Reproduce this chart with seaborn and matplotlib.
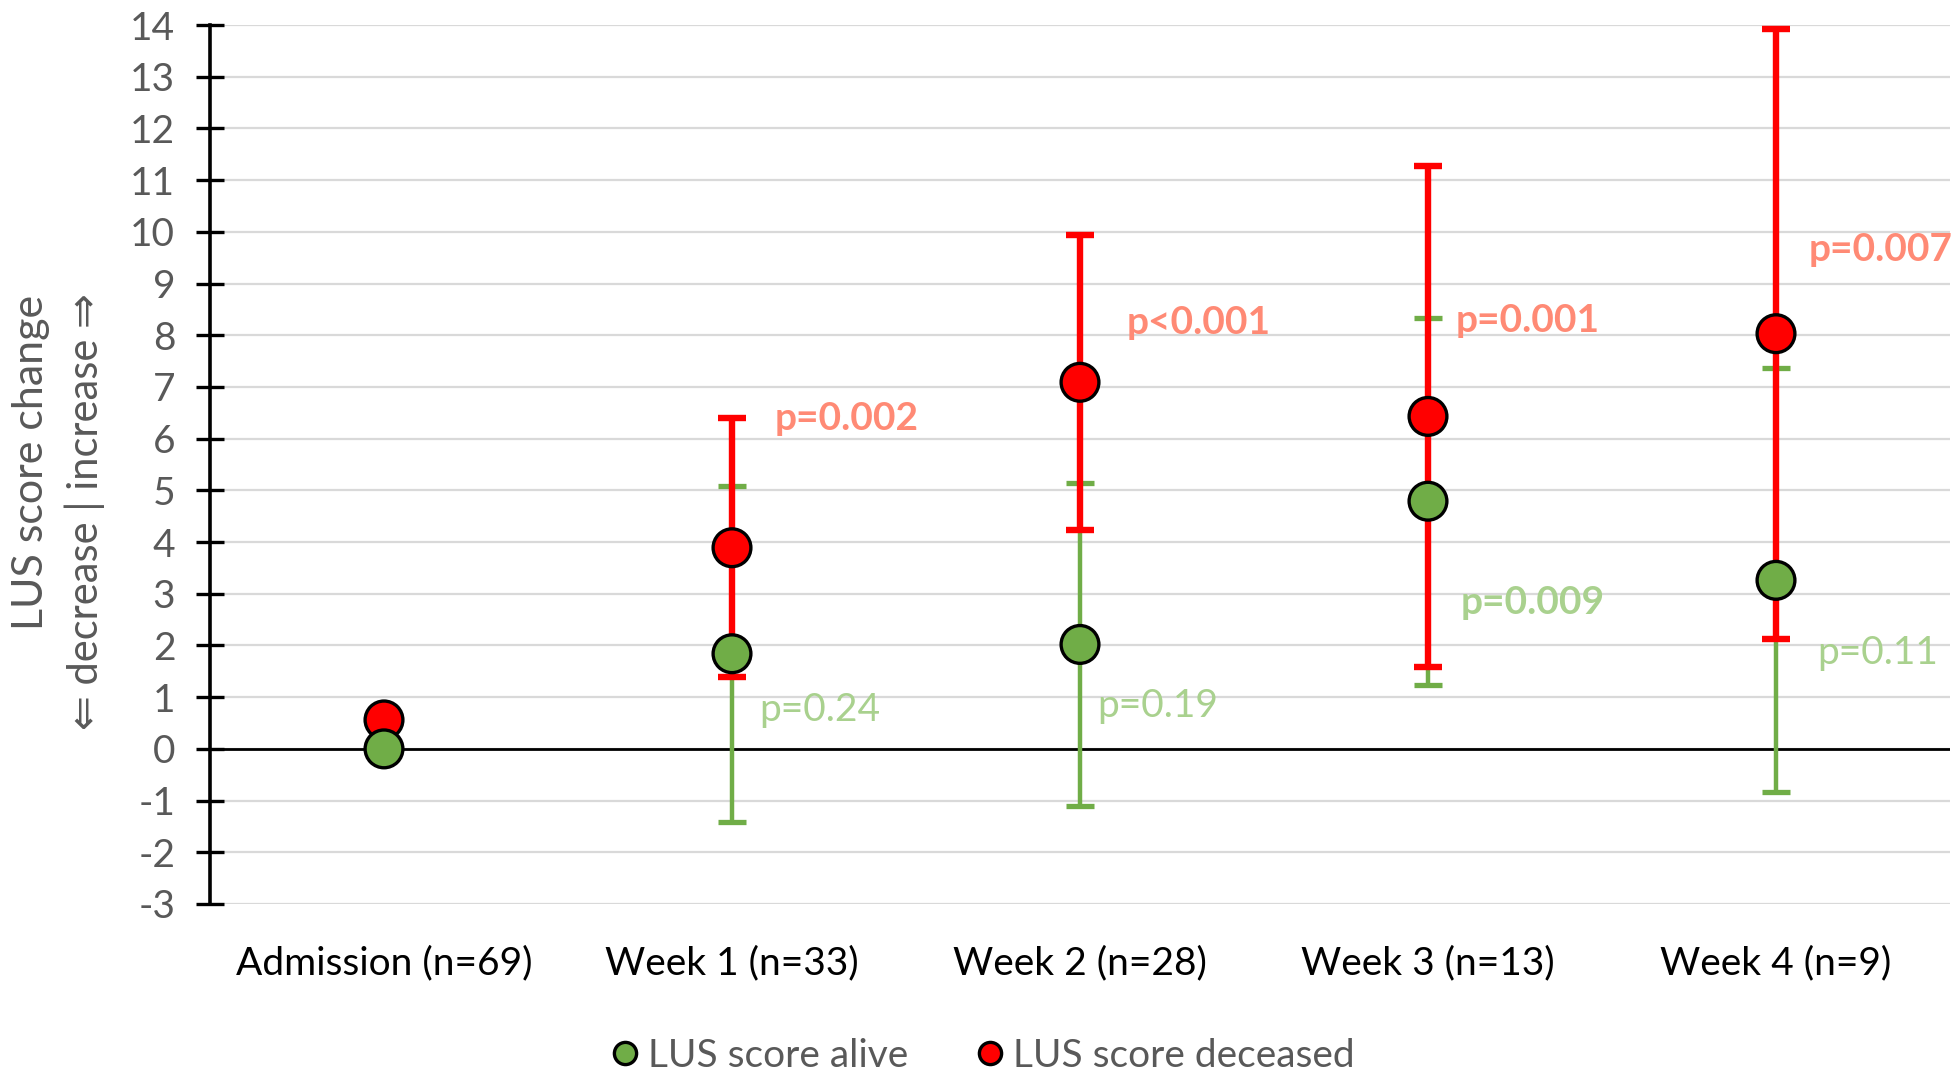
import numpy as np
import pandas as pd
import matplotlib
matplotlib.use("Agg")
import matplotlib.pyplot as plt
from matplotlib.lines import Line2D
import seaborn as sns

# Data
categories = ["Admission (n=69)", "Week 1 (n=33)", "Week 2 (n=28)", "Week 3 (n=13)", "Week 4 (n=9)"]
alive_mean = [0.0, 1.84, 2.02, 4.79, 3.26]
alive_err = [0.0, 3.25, 3.12, 3.55, 4.10]
deceased_mean = [0.56, 3.89, 7.09, 6.43, 8.03]
deceased_err = [0.0, 2.50, 2.85, 4.85, 5.90]

# p-value labels: text, y value, horizontal offset from the category
p_alive = ["", "p=0.24", "p=0.19", "p=0.009", "p=0.11"]
p_alive_y = [None, 0.75, 0.82, 2.83, 1.86]
p_alive_dx = [0, 0.079, 0.05, 0.094, 0.119]
p_alive_bold = [False, False, False, True, False]
p_deceased = ["", "p=0.002", "p<0.001", "p=0.001", "p=0.007"]
p_deceased_y = [None, 6.38, 8.25, 8.29, 9.65]
p_deceased_dx = [0, 0.122, 0.133, 0.079, 0.094]

GREEN = "#70AD47"
RED = "#FF0000"
GREEN_TXT = "#A9D18E"
RED_TXT = "#FF8A75"
GREY = "#595959"

sns.set_style("white")
plt.rcParams["font.family"] = ["Lato", "DejaVu Sans"]
plt.rcParams["axes.unicode_minus"] = False

fig = plt.figure(figsize=(19.6, 10.78), dpi=100)
ax = fig.add_axes([210 / 1960, 1 - 904 / 1078, 1740 / 1960, 879 / 1078])

x = np.arange(len(categories))
df = pd.DataFrame({
    "x": np.concatenate([x, x]),
    "value": deceased_mean + alive_mean,
    "group": ["LUS score deceased"] * len(x) + ["LUS score alive"] * len(x),
})

# error bars: green first, red over it
a_idx = [i for i in x if alive_err[i] > 0]
d_idx = [i for i in x if deceased_err[i] > 0]
ax.errorbar(x[a_idx], np.array(alive_mean)[a_idx], yerr=np.array(alive_err)[a_idx],
            fmt="none", ecolor=GREEN, elinewidth=3.2, capsize=10, capthick=3.8, zorder=3)
ax.errorbar(x[d_idx], np.array(deceased_mean)[d_idx], yerr=np.array(deceased_err)[d_idx],
            fmt="none", ecolor=RED, elinewidth=4.6, capsize=10, capthick=4.6, zorder=4)

sns.scatterplot(data=df, x="x", y="value", hue="group",
                hue_order=["LUS score alive", "LUS score deceased"],
                palette={"LUS score alive": GREEN, "LUS score deceased": RED},
                s=740, edgecolor="black", linewidth=2.4, legend=False, zorder=5, ax=ax)

ax.axhline(0, color="black", lw=2.0, zorder=2)

# p-value labels
for i in x:
    if p_deceased[i]:
        ax.text(i + p_deceased_dx[i], p_deceased_y[i], p_deceased[i], color=RED_TXT,
                fontsize=28, fontweight="bold", va="center", ha="left", zorder=6)
    if p_alive[i]:
        ax.text(i + p_alive_dx[i], p_alive_y[i], p_alive[i],
                color=GREEN_TXT, fontsize=28,
                fontweight="bold" if p_alive_bold[i] else "normal",
                va="center", ha="left", zorder=6)

ax.set_xlim(-0.5, len(categories) - 0.5)
ax.set_ylim(-3, 14)
ax.set_yticks(range(-3, 15))
ax.set_xticks(x)
ax.set_xticklabels(categories, fontsize=28, color="black")
ax.tick_params(axis="y", left=True, labelsize=28, labelcolor=GREY, direction="inout",
               length=20, width=2.4, color="black", pad=15)
ax.tick_params(axis="x", bottom=False, length=0, pad=30)
ax.set_xlabel("")
ax.set_ylabel("")
ax.yaxis.grid(True, color="#D9D9D9", lw=1.6)
ax.set_axisbelow(True)
for side in ["top", "right", "bottom"]:
    ax.spines[side].set_visible(False)
ax.spines["left"].set_color("black")
ax.spines["left"].set_linewidth(2.6)
ax.spines["left"].set_zorder(7)

# y axis title, two lines
fig.text(31 / 1960, 1 - 295 / 1078, "LUS score change", rotation=90, ha="center", va="top",
         fontsize=31, color=GREY)
fig.text(85 / 1960, 1 - 293 / 1078, "\u21d0 decrease | increase \u21d2", rotation=90,
         ha="center", va="top", fontsize=30, color=GREY)

handles = [
    Line2D([], [], ls="none", marker="o", markersize=16, markerfacecolor=GREEN,
           markeredgecolor="black", markeredgewidth=2.4, label="LUS score alive"),
    Line2D([], [], ls="none", marker="o", markersize=16, markerfacecolor=RED,
           markeredgecolor="black", markeredgewidth=2.4, label="LUS score deceased"),
]
leg = fig.legend(handles=handles, loc="center", bbox_to_anchor=(0.5, 1 - 1056 / 1078),
                 ncol=2, frameon=False, fontsize=28, handletextpad=0.1,
                 columnspacing=1.6, handlelength=1.0)
for t in leg.get_texts():
    t.set_color(GREY)

fig.savefig("out.png", dpi=100)
